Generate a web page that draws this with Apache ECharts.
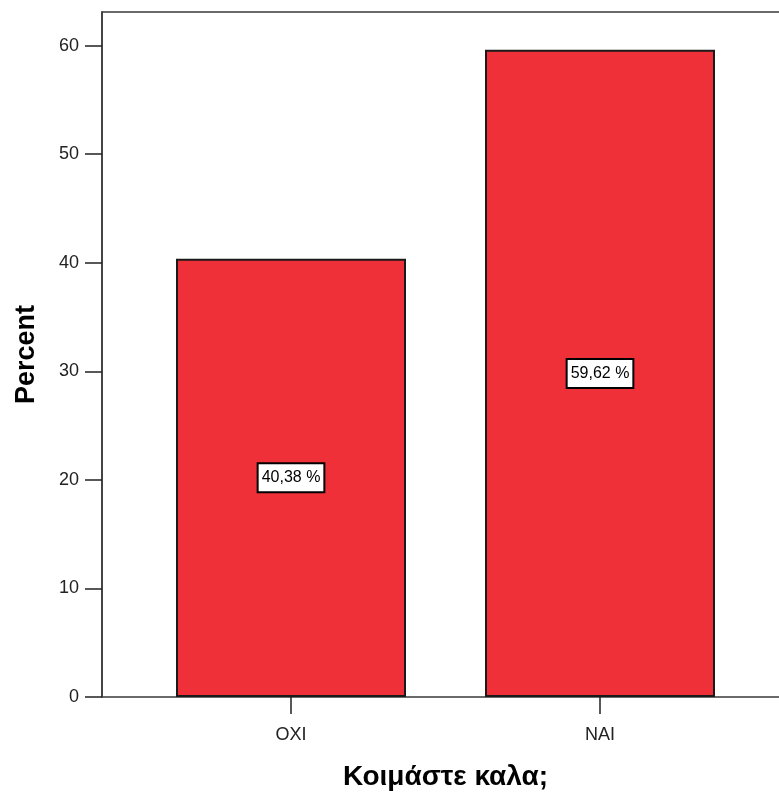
<!DOCTYPE html>
<html>
<head>
<meta charset="utf-8">
<script src="https://cdn.jsdelivr.net/npm/echarts@6/dist/echarts.min.js"></script>
<style>html,body{margin:0;padding:0;background:#fff}#c{width:779px;height:798px}</style>
</head>
<body>
<div id="c"></div>
<script>
const categories = ['OXI', 'NAI'];
const percentValues = [40.38, 59.62];
const yTickValues = [0, 10, 20, 30, 40, 50, 60];
const xTitle = 'Κοιμάστε καλα;';
const yTitle = 'Percent';

const chart = echarts.init(document.getElementById('c'), null, {renderer: 'canvas'});
const font = '"Liberation Sans", Arial, sans-serif';
chart.setOption({
  animation: false,
  backgroundColor: '#fff',
  grid: [
    {left: 102, top: 12, width: 720, bottom: 101, show: true, borderColor: '#3a3a3a', borderWidth: 1.5, backgroundColor: 'transparent', z: 0, outerBoundsMode: 'none', containLabel: false},
    {left: 136.5, right: 24.5, top: 12, bottom: 101, outerBoundsMode: 'none', containLabel: false}
  ],
  xAxis: [
    {gridIndex: 0, type: 'value', show: false},
    {
      gridIndex: 1, type: 'category', data: categories,
      axisLine: {show: false},
      axisTick: {show: true, alignWithLabel: true, length: 17, lineStyle: {color: '#222', width: 1.5}},
      axisLabel: {margin: 29, color: '#222', fontSize: 18, fontFamily: font},
      name: xTitle, nameLocation: 'middle', nameGap: 66,
      nameTextStyle: {fontSize: 28, fontWeight: 'bold', color: '#000', fontFamily: font}
    }
  ],
  yAxis: [
    {gridIndex: 0, type: 'value', show: false},
    {
      gridIndex: 1, type: 'value', min: 0, max: 63.1, interval: 10, offset: 34.5,
      axisLine: {show: true, lineStyle: {color: '#3a3a3a', width: 1.5}},
      axisTick: {show: true, length: 17, customValues: yTickValues, lineStyle: {color: '#222', width: 1.5}},
      axisLabel: {margin: 23, color: '#222', fontSize: 18, fontFamily: font, customValues: yTickValues},
      splitLine: {show: false},
      name: yTitle, nameLocation: 'middle', nameGap: 62,
      nameTextStyle: {fontSize: 27, fontWeight: 'bold', color: '#000', fontFamily: font}
    }
  ],
  series: [{
    type: 'bar', xAxisIndex: 1, yAxisIndex: 1,
    data: percentValues,
    barWidth: 230,
    itemStyle: {color: '#EF3039', borderColor: '#1a1a1a', borderWidth: 2},
    label: {
      show: true, position: 'inside',
      formatter: p => p.value.toFixed(2).replace('.', ',') + ' %',
      color: '#000', fontSize: 16, fontFamily: font,
      backgroundColor: '#fff', borderColor: '#000', borderWidth: 2,
      padding: [6, 3, 5, 3]
    }
  }]
});
</script>
</body>
</html>
